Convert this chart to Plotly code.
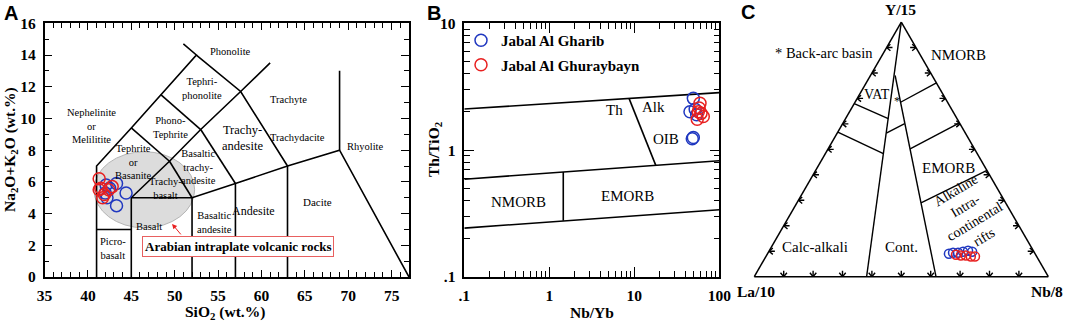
import math
import plotly.graph_objects as go

W, H = 1065, 322

# ---------------- data ----------------
# Panel A: TAS (SiO2 vs Na2O+K2O, wt.%)
gharib_sio2 = [42.1, 43.3, 44.4, 43.3, 42.0, 42.2, 42.5]
gharib_alk = [5.8, 5.9, 5.3, 4.5, 5.3, 5.0, 5.6]
ghur_sio2 = [41.3, 41.5, 41.9, 42.4, 41.3, 42.8, 41.7]
ghur_alk = [6.2, 5.6, 5.2, 5.5, 5.5, 5.7, 5.0]

# Panel B: Nb/Yb vs Th/TiO2
gharib_nbyb = [49.5, 45.2, 54.2, 49.5, 48.1, 52.0]
gharib_thti = [2.56, 2.01, 1.90, 1.26, 1.23, 2.10]
ghur_nbyb = [59.3, 56.6, 64.8, 58.0, 61.0, 55.0]
ghur_thti = [2.34, 2.01, 1.84, 2.15, 1.95, 1.75]

# Panel C: ternary Y/15 - La/10 - Nb/8 (fractions)
gharib_y15 = [0.090, 0.094, 0.094, 0.098, 0.102, 0.098]
gharib_la10 = [0.293, 0.277, 0.260, 0.241, 0.222, 0.210]
gharib_nb8 = [0.617, 0.629, 0.646, 0.661, 0.676, 0.692]
ghur_y15 = [0.086, 0.083, 0.083, 0.079, 0.079]
ghur_la10 = [0.271, 0.256, 0.239, 0.224, 0.210]
ghur_nb8 = [0.643, 0.661, 0.678, 0.697, 0.711]

series_names = ["Jabal Al Gharib", "Jabal Al Ghuraybayn"]
series_colors = ["#2038c0", "#e82020"]

# TAS field boundaries (SiO2, Na2O+K2O)
tas_lines = [
    [(41, 0), (41, 7), (45, 9.4), (48.4, 11.5), (52.5, 14), (51.0, 14.7)],
    [(41, 3), (45, 3)],
    [(45, 0), (45, 5), (49.4, 7.3), (53, 9.3), (57.6, 11.7), (61, 13.5)],
    [(45, 5), (52, 5), (57, 5.9), (63, 7), (69, 8), (77, 0)],
    [(52, 0), (52, 5)],
    [(57, 0), (57, 5.9)],
    [(63, 0), (63, 7)],
    [(69, 8), (69, 13)],
    [(52, 5), (49.4, 7.3)],
    [(57, 5.9), (53, 9.3)],
    [(63, 7), (57.6, 11.7), (52.5, 14)],
    [(45, 9.4), (49.4, 7.3)],
    [(48.4, 11.5), (53, 9.3)],
]
tas_labels = [
    ("Phonolite", 56.4, 14.25, 10.5),
    ("Tephri-<br>phonolite", 53.1, 11.9, 10.5),
    ("Trachyte", 63.1, 11.2, 10.5),
    ("Nephelinite<br>or<br>Melilitite", 40.4, 9.5, 10.5),
    ("Phono-<br>Tephrite", 49.5, 9.4, 10.5),
    ("Trachy-<br>andesite", 57.8, 8.75, 12.5),
    ("Trachydacite", 64.2, 8.8, 10.5),
    ("Rhyolite", 72.0, 8.2, 10.5),
    ("Tephrite<br>or<br>Basanite", 45.2, 7.25, 10.5),
    ("Basaltic<br>trachy-<br>andesite", 52.8, 6.95, 10.5),
    ("Trachy-<br>basalt", 48.9, 5.6, 10.5),
    ("Basalt", 47.0, 3.2, 10.5),
    ("Basaltic<br>andesite", 54.6, 3.46, 10.5),
    ("Andesite", 59.05, 4.17, 12),
    ("Dacite", 66.5, 4.7, 11),
    ("Picro-<br>basalt", 42.9, 1.82, 10.5),
]
# Arabian intraplate field (ellipse extent, data units)
arabian_sio2 = [40.7, 52.3]
arabian_alk = [3.1, 7.9]

# Panel B field boundaries (Nb/Yb, Th/TiO2)
b_lines = [
    [(0.1, 2.11), (100, 2.84)],
    [(0.1, 0.59), (100, 0.824)],
    [(0.1, 0.243), (100, 0.339)],
    [(8.67, 2.56), (17.9, 0.759)],
    [(1.46, 0.673), (1.46, 0.277)],
]

# Panel C field boundaries (Y/15, La/10, Nb/8)
c_lines = [
    [(1, 0, 0), (0, 0.618, 0.382)],
    [(0.79, 0.126, 0.084), (0, 0.382, 0.618)],
    [(0.68, 0.32, 0), (0.621, 0.234, 0.145)],
    [(0.568, 0.432, 0), (0.483, 0.3195, 0.1975)],
    [(0.564, 0.269, 0.167), (0.601, 0.188, 0.211)],
    [(0.685, 0.160, 0.155), (0.761, 0, 0.239)],
    [(0.502, 0.219, 0.279), (0.604, 0, 0.396)],
    [(0.290, 0.288, 0.422), (0.417, 0, 0.583)],
]
c_edge_ticks = [0.1, 0.2, 0.3, 0.4, 0.5, 0.6, 0.7, 0.8, 0.9]

# ---------------- helpers ----------------
def px(x):
    return x / W

def py(y):
    return (H - y) / H

SERIF = "Liberation Serif"
SANS = "Liberation Sans"

def flatten(lines):
    xs, ys = [], []
    for ln in lines:
        for p in ln:
            xs.append(p[0]); ys.append(p[1])
        xs.append(None); ys.append(None)
    return xs, ys

def cart_to_tern(x, y):
    s3 = 3 ** 0.5 / 2
    a = y / s3
    c = x - a / 2
    return a, 1 - a - c, c

fig = go.Figure()

# ---------------- Panel A ----------------
tx, ty = flatten(tas_lines)
fig.add_trace(go.Scatter(x=tx, y=ty, mode="lines", line=dict(color="black", width=1.6),
                         showlegend=False, hoverinfo="skip", xaxis="x", yaxis="y"))
for nm, col, xs, ys in [(series_names[0], series_colors[0], gharib_sio2, gharib_alk),
                        (series_names[1], series_colors[1], ghur_sio2, ghur_alk)]:
    fig.add_trace(go.Scatter(x=xs, y=ys, mode="markers", name=nm, legendgroup=nm, showlegend=False,
                             marker=dict(symbol="circle-open", size=12, color=col, line=dict(width=1.5)),
                             xaxis="x", yaxis="y"))

fig.add_shape(type="circle", xref="x", yref="y", x0=arabian_sio2[0], x1=arabian_sio2[1],
              y0=arabian_alk[0], y1=arabian_alk[1], fillcolor="#dcdcdc",
              line=dict(color="#b4b4b4", width=1), layer="below")

# ---------------- Panel B ----------------
bx, by = flatten(b_lines)
fig.add_trace(go.Scatter(x=bx, y=by, mode="lines", line=dict(color="black", width=1.6),
                         showlegend=False, hoverinfo="skip", xaxis="x2", yaxis="y2"))
for nm, col, xs, ys in [(series_names[0], series_colors[0], gharib_nbyb, gharib_thti),
                        (series_names[1], series_colors[1], ghur_nbyb, ghur_thti)]:
    fig.add_trace(go.Scatter(x=xs, y=ys, mode="markers", name=nm, legendgroup=nm, showlegend=True,
                             marker=dict(symbol="circle-open", size=12, color=col, line=dict(width=1.5)),
                             xaxis="x2", yaxis="y2"))

# ---------------- Panel C ----------------
ca, cb, cc = [], [], []
for ln in c_lines:
    for p in ln:
        ca.append(p[0]); cb.append(p[1]); cc.append(p[2])
    ca.append(None); cb.append(None); cc.append(None)

# small arrow marks along the triangle edges
s3 = 3 ** 0.5 / 2
L, Hh = 0.02, 0.017
ang = math.radians(40)
arrow_segs = []
for t in c_edge_ticks:
    x0, y0 = t / 2, t * s3
    arrow_segs.append([(x0 + L, y0), (x0, y0)])
    arrow_segs.append([(x0 + Hh * math.cos(ang), y0 + Hh * math.sin(ang)), (x0, y0),
                       (x0 + Hh * math.cos(ang), y0 - Hh * math.sin(ang))])
    x0, y0 = 1 - t / 2, t * s3
    arrow_segs.append([(x0 - L, y0), (x0, y0)])
    arrow_segs.append([(x0 - Hh * math.cos(ang), y0 + Hh * math.sin(ang)), (x0, y0),
                       (x0 - Hh * math.cos(ang), y0 - Hh * math.sin(ang))])
    x0, y0 = t, 0.0
    arrow_segs.append([(x0, y0 + L), (x0, y0)])
    arrow_segs.append([(x0 - Hh * math.sin(ang), y0 + Hh * math.cos(ang)), (x0, y0),
                       (x0 + Hh * math.sin(ang), y0 + Hh * math.cos(ang))])
for seg in arrow_segs:
    for (x, y) in seg:
        a, b, c = cart_to_tern(x, y)
        ca.append(max(a, 0)); cb.append(max(b, 0)); cc.append(max(c, 0))
    ca.append(None); cb.append(None); cc.append(None)

fig.add_trace(go.Scatterternary(a=ca, b=cb, c=cc, mode="lines", line=dict(color="black", width=1.4),
                                showlegend=False, hoverinfo="skip", subplot="ternary"))
for nm, col, aa, bb, cc2 in [(series_names[0], series_colors[0], gharib_y15, gharib_la10, gharib_nb8),
                             (series_names[1], series_colors[1], ghur_y15, ghur_la10, ghur_nb8)]:
    fig.add_trace(go.Scatterternary(a=aa, b=bb, c=cc2, mode="markers", name=nm, legendgroup=nm,
                                    showlegend=False,
                                    marker=dict(symbol="circle-open", size=9, color=col, line=dict(width=1.5)),
                                    subplot="ternary"))

# ---------------- layout ----------------
tickfont = dict(family=SERIF, size=15.5, color="black", weight="bold")
common = dict(showline=True, linecolor="black", linewidth=1.5, mirror="allticks", ticks="inside",
              tickcolor="black", tickwidth=1.2, showgrid=False, zeroline=False, tickfont=tickfont,
              ticklabelstandoff=4, automargin=False)

ydom = [py(277), py(23.3)]
minor_log_x = [m * 10 ** e for e in (-1, 0, 1) for m in range(2, 10)]
minor_log_y = [m * 10 ** e for e in (-1, 0) for m in range(2, 10)]
tern_axis = dict(title=dict(text=""), showticklabels=False, ticks="", showgrid=False,
                 linecolor="black", linewidth=1.5)

fig.update_layout(
    width=W, height=H, margin=dict(l=0, r=0, t=0, b=0, pad=0, autoexpand=False),
    paper_bgcolor="white", plot_bgcolor="white",
    xaxis=dict(domain=[px(44.5), px(409)], range=[35, 77], tickmode="linear", tick0=35, dtick=5,
               ticklen=7, minor=dict(dtick=1, ticks="inside", ticklen=5, tickcolor="black"),
               anchor="y", **common),
    yaxis=dict(domain=ydom, range=[0, 16], tickmode="linear", tick0=0, dtick=2, ticklen=8,
               minor=dict(dtick=1, ticks="inside", ticklen=5, tickcolor="black"),
               anchor="x", **common),
    xaxis2=dict(domain=[px(464.3), px(719.3)], type="log", range=[-1, 2],
                tickmode="array", tickvals=[0.1, 1, 10, 100], ticktext=[".1", "1", "10", "100"],
                ticklen=10, minor=dict(tickmode="array", tickvals=minor_log_x, ticks="inside",
                                        ticklen=6, tickcolor="black"),
                anchor="y2", **common),
    yaxis2=dict(domain=ydom, type="log", range=[-1, 1],
                tickmode="array", tickvals=[0.1, 1, 10], ticktext=[".1", "1", "10"],
                ticklen=10, minor=dict(tickmode="array", tickvals=minor_log_y, ticks="inside",
                                        ticklen=6, tickcolor="black"),
                anchor="x2", **common),
    ternary=dict(
        domain=dict(x=[px(754.3), px(1048.3)], y=[py(277), py(21.7)]),
        sum=1, bgcolor="white",
        aaxis=tern_axis, baxis=tern_axis, caxis=tern_axis,
    ),
    legend=dict(x=px(461), y=py(24), xanchor="left", yanchor="top", bgcolor="rgba(0,0,0,0)",
                font=dict(family=SERIF, size=15, color="black", weight="bold"),
                tracegroupgap=2, itemwidth=30),
    showlegend=True,
)

C = dict(xanchor="center", yanchor="middle", showarrow=False)
annotations = []
for letter, x, y in [("A", 11, 13), ("B", 434, 13), ("C", 748, 12)]:
    annotations.append(dict(text=f"<b>{letter}</b>", x=px(x), y=py(y), xref="paper", yref="paper",
                            font=dict(family=SANS, size=20, color="black"), **C))
title_font = dict(family=SERIF, size=15.5, color="black")
annotations += [
    dict(text="<b>Na<sub>2</sub>O+K<sub>2</sub>O (wt.%)</b>", x=px(10), y=py(150), xref="paper", yref="paper",
         textangle=-90, font=title_font, **C),
    dict(text="<b>SiO<sub>2</sub> (wt.%)</b>", x=px(225), y=py(312), xref="paper", yref="paper",
         font=title_font, **C),
    dict(text="<b>Th/TiO<sub>2</sub></b>", x=px(434), y=py(150), xref="paper", yref="paper",
         textangle=-90, font=title_font, **C),
    dict(text="<b>Nb/Yb</b>", x=px(592), y=py(312), xref="paper", yref="paper",
         font=title_font, **C),
    # ternary apex labels
    dict(text="<b>Y/15</b>", x=px(900), y=py(9), xref="paper", yref="paper", font=title_font, **C),
    dict(text="<b>La/10</b>", x=px(756), y=py(291), xref="paper", yref="paper", font=title_font, **C),
    dict(text="<b>Nb/8</b>", x=px(1047), y=py(291), xref="paper", yref="paper", font=title_font, **C),
]
for txt, x, y, fs in tas_labels:
    annotations.append(dict(text=txt, x=x, y=y, xref="x", yref="y",
                            font=dict(family=SERIF, size=fs, color="black"), **C))
annotations.append(dict(text="<b>Arabian intraplate volcanic rocks</b>", x=57.35, y=1.92, xref="x", yref="y",
                        bgcolor="white", bordercolor="#e86060", borderwidth=1, borderpad=2,
                        font=dict(family=SERIF, size=13, color="black"), **C))
annotations.append(dict(text="", x=49.7, y=3.35, xref="x", yref="y", ax=10, ay=12,
                        showarrow=True, arrowhead=2, arrowsize=1, arrowwidth=1, arrowcolor="#e82020"))
for txt, x, y in [("Th", 614, 110), ("Alk", 653, 107), ("OIB", 666, 139),
                  ("NMORB", 518, 202), ("EMORB", 627, 196)]:
    annotations.append(dict(text=txt, x=px(x), y=py(y), xref="paper", yref="paper",
                            font=dict(family=SERIF, size=15, color="black"), **C))
for txt, x, y, fs in [("* Back-arc basin", 824, 53, 14.5), ("NMORB", 958, 55, 15), ("VAT", 877, 94, 14),
                      ("*", 897, 101, 12), ("EMORB", 948, 168, 15), ("Calc-alkali", 815, 247, 15),
                      ("Cont.", 901, 247, 15)]:
    annotations.append(dict(text=txt, x=px(x), y=py(y), xref="paper", yref="paper",
                            font=dict(family=SERIF, size=fs, color="black"), **C))
annotations.append(dict(text="Alkaline<br>Intra-<br>continental<br>rifts", x=px(970), y=py(214),
                        xref="paper", yref="paper", textangle=-31,
                        font=dict(family=SERIF, size=14, color="black"), **C))
fig.update_layout(annotations=annotations)

fig.write_html("out.html", config={"displayModeBar": False},
               post_script="document.body.style.margin='0px';")
